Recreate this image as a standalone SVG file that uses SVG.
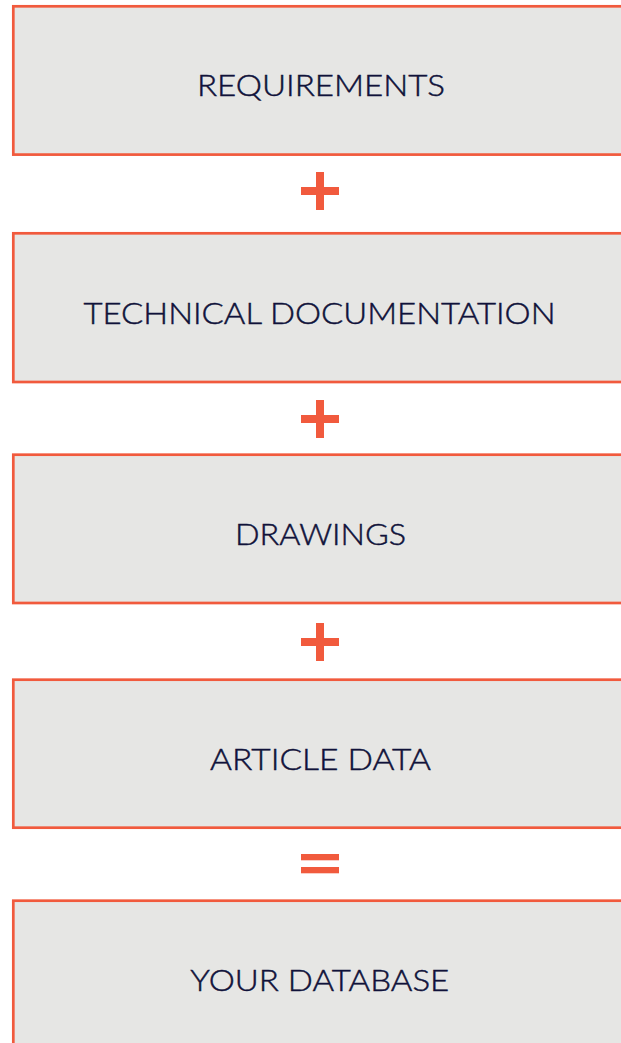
<svg xmlns="http://www.w3.org/2000/svg" width="621" height="1043" viewBox="0 0 621 1043">
  <style>
    .box { fill: #e6e6e4; stroke: #f15a3d; stroke-width: 2.7; }
    .label { font-family: Lato, "Open Sans", sans-serif; font-weight: 300; font-size: 29px; fill: #10123a; stroke: #10123a; stroke-width: 0.45; text-anchor: middle; }
    .op { fill: #f15a3d; }
  </style>
  <defs>
    <g id="plus">
      <rect x="-19" y="-4" width="38" height="8"/>
      <rect x="-4" y="-19" width="8" height="38"/>
    </g>
  </defs>

  <g id="node-requirements">
    <rect class="box" x="13.3" y="6.3" width="640" height="148.3"/>
    <text class="label" x="321" y="96" textLength="248" lengthAdjust="spacingAndGlyphs">REQUIREMENTS</text>
  </g>
  <g id="node-technical-documentation">
    <rect class="box" x="13.3" y="233.3" width="640" height="148.7"/>
    <text class="label" x="319.5" y="324" textLength="472" lengthAdjust="spacingAndGlyphs">TECHNICAL DOCUMENTATION</text>
  </g>
  <g id="node-drawings">
    <rect class="box" x="13.3" y="454.7" width="640" height="148.3"/>
    <text class="label" x="320.5" y="545" textLength="171" lengthAdjust="spacingAndGlyphs">DRAWINGS</text>
  </g>
  <g id="node-article-data">
    <rect class="box" x="13.3" y="679.7" width="640" height="148"/>
    <text class="label" x="320.5" y="770" textLength="221" lengthAdjust="spacingAndGlyphs">ARTICLE DATA</text>
  </g>
  <g id="node-your-database">
    <rect class="box" x="13.3" y="900.7" width="640" height="200"/>
    <text class="label" x="319.7" y="991" textLength="259" lengthAdjust="spacingAndGlyphs">YOUR DATABASE</text>
  </g>

  <g id="connectors" class="op">
    <use href="#plus" x="320" y="191"/>
    <use href="#plus" x="320" y="419"/>
    <use href="#plus" x="320" y="642"/>
    <rect x="301" y="854" width="38" height="6.3"/>
    <rect x="301" y="867" width="38" height="6.3"/>
  </g>
</svg>
